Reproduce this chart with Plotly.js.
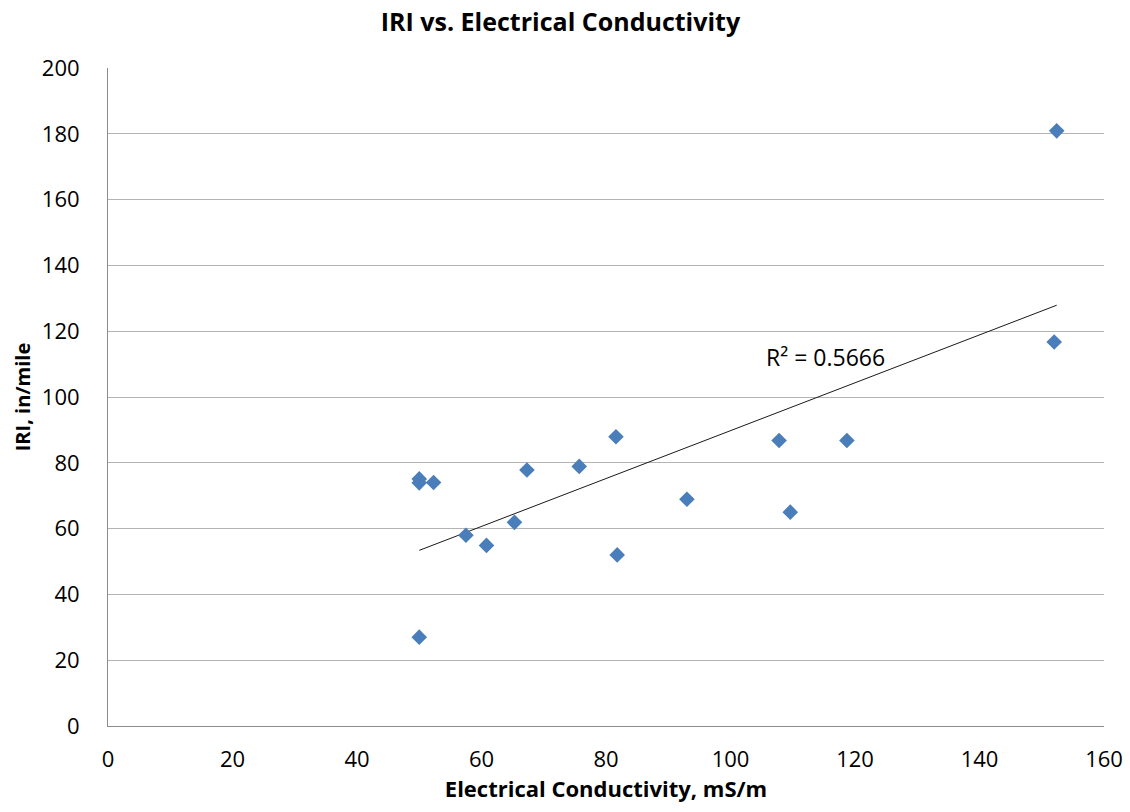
<!DOCTYPE html>
<html>
<head>
<meta charset="utf-8">
<script src="https://cdn.plot.ly/plotly-3.0.1.min.js"></script>
<style>
  html, body { margin: 0; padding: 0; background: #fff; }
  #chart { width: 1130px; height: 812px; }
</style>
</head>
<body>
<div id="chart"></div>
<script>
// Electrical conductivity (mS/m) and IRI (in/mile) for each test section
const conductivity = [50.0, 50.0, 50.0, 52.3, 57.5, 60.8, 65.3, 67.3, 75.7, 81.6, 81.8, 93.0, 107.8, 109.6, 118.7, 152.0, 152.4];
const iri          = [27.0, 75.1, 73.9, 74.0, 58.0, 54.9, 61.9, 77.8, 78.9, 87.9, 52.0, 68.9, 86.8, 65.0, 86.8, 116.7, 180.9];
const rSquaredLabel = 'R² = 0.5666';

// Least-squares linear trend line over the range of the data
function linearFit(xs, ys) {
  const n = xs.length;
  const mx = xs.reduce((a, b) => a + b, 0) / n;
  const my = ys.reduce((a, b) => a + b, 0) / n;
  let sxy = 0, sxx = 0;
  for (let i = 0; i < n; i++) {
    sxy += (xs[i] - mx) * (ys[i] - my);
    sxx += (xs[i] - mx) * (xs[i] - mx);
  }
  const slope = sxy / sxx;
  return { slope: slope, intercept: my - slope * mx };
}
const fit = linearFit(conductivity, iri);
const xMin = Math.min(...conductivity);
const xMax = Math.max(...conductivity);
const trendX = [xMin, xMax];
const trendY = trendX.map(x => fit.intercept + fit.slope * x);

const font = '"Open Sans", "Noto Sans", "Liberation Sans", sans-serif';

const traces = [
  {
    x: trendX, y: trendY, type: 'scatter', mode: 'lines',
    line: { color: '#1a1a1a', width: 1 },
    hoverinfo: 'skip', showlegend: false
  },
  {
    x: conductivity, y: iri, type: 'scatter', mode: 'markers',
    marker: { symbol: 'diamond', size: 12, color: '#4a7ebb' },
    showlegend: false
  }
];

const layout = {
  width: 1130, height: 812,
  margin: { l: 108, r: 26, t: 68, b: 86 },
  paper_bgcolor: '#ffffff', plot_bgcolor: '#ffffff',
  font: { family: font, size: 22, color: '#000' },
  title: {
    text: '<b>IRI vs. Electrical Conductivity</b>',
    font: { family: font, size: 25, color: '#000' },
    x: 0.496, xanchor: 'center', y: 0.972, yanchor: 'middle'
  },
  xaxis: {
    range: [0, 160], dtick: 20, tick0: 0,
    showgrid: false, zeroline: false,
    showline: true, linecolor: '#8c8c8c', linewidth: 1,
    ticks: '', ticklabelstandoff: 14,
    tickfont: { family: font, size: 22, color: '#000' },
    title: { text: '<b>Electrical Conductivity, mS/m</b>', font: { family: font, size: 22, color: '#000' }, standoff: 3 }
  },
  yaxis: {
    range: [0, 200], dtick: 20, tick0: 0,
    showgrid: true, gridcolor: '#b3b3b3', gridwidth: 1,
    zeroline: false,
    showline: true, linecolor: '#8c8c8c', linewidth: 1,
    ticks: '', ticklabelstandoff: 23,
    tickfont: { family: font, size: 22, color: '#000' },
    title: { text: '<b>IRI, in/mile</b>', font: { family: font, size: 20, color: '#000' }, standoff: 5 }
  },
  annotations: [
    {
      x: 115.3, y: 112.2, xref: 'x', yref: 'y',
      text: rSquaredLabel, showarrow: false,
      font: { family: font, size: 23, color: '#000' }
    }
  ]
};

Plotly.newPlot('chart', traces, layout, { displayModeBar: false, staticPlot: true });
</script>
</body>
</html>
